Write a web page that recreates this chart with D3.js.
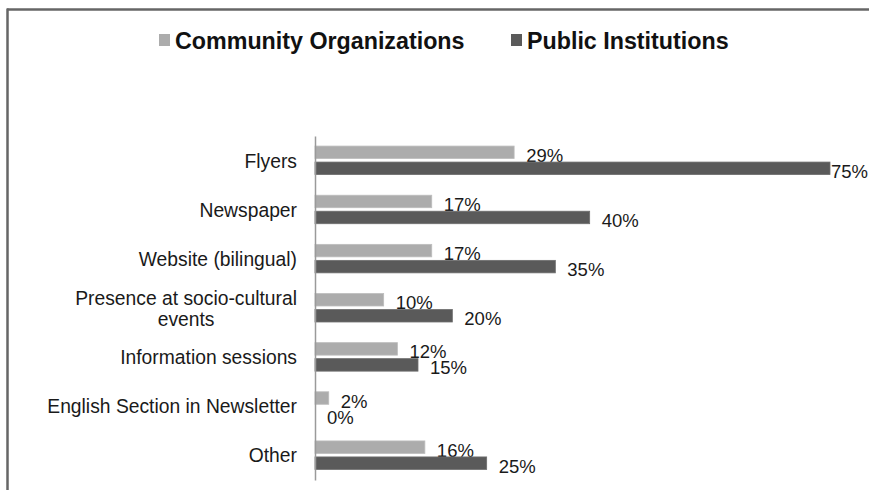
<!DOCTYPE html>
<html>
<head>
<meta charset="utf-8">
<script src="https://cdn.jsdelivr.net/npm/d3@7"></script>
<style>
  html, body { margin: 0; padding: 0; background: #fff; }
  svg { display: block; }
  text { font-family: "Liberation Sans", Arial, sans-serif; }
</style>
</head>
<body>
<script>
const categories = ["Flyers", "Newspaper", "Website (bilingual)", "Presence at socio-cultural events", "Information sessions", "English Section in Newsletter", "Other"];
const categoryLines = [["Flyers"], ["Newspaper"], ["Website (bilingual)"], ["Presence at socio-cultural", "events"], ["Information sessions"], ["English Section in Newsletter"], ["Other"]];
const seriesNames = ["Community Organizations", "Public Institutions"];
const communityOrganizations = [29, 17, 17, 10, 12, 2, 16];
const publicInstitutions = [75, 40, 35, 20, 15, 0, 25];
const seriesColors = ["#acacac", "#5a5a5a"];

const W = 869, H = 490;
const svg = d3.select("body").append("svg").attr("width", W).attr("height", H);

// outer frame (top and left edges visible)
svg.append("line").attr("x1", 7).attr("x2", W).attr("y1", 9.5).attr("y2", 9.5)
  .attr("stroke", "#666").attr("stroke-width", 2.5);
svg.append("line").attr("x1", 7.5).attr("x2", 7.5).attr("y1", 8.5).attr("y2", H)
  .attr("stroke", "#666").attr("stroke-width", 2.5);

const x = d3.scaleLinear().domain([0, 75]).range([315, 830]);
const y = d3.scaleBand().domain(categories).range([136, 480]).padding(0);

const series = [communityOrganizations, publicInstitutions];
const barOffsets = [-14.5, 1.5];
const barH = 12.5;

series.forEach((vals, si) => {
  svg.append("g").selectAll("rect").data(categories).join("rect")
    .attr("x", x(0))
    .attr("y", d => y(d) + y.bandwidth() / 2 + barOffsets[si])
    .attr("width", (d, i) => x(vals[i]) - x(0))
    .attr("height", barH)
    .attr("fill", seriesColors[si])
    .attr("stroke", si === 0 ? "#bdbdbd" : "#6e6e6e")
    .attr("stroke-width", 0.8);
  svg.append("g").selectAll("text").data(categories).join("text")
    .attr("x", (d, i) => Math.min(x(vals[i]) + 12, 831))
    .attr("y", (d, i) => y(d) + y.bandwidth() / 2 + barOffsets[si] + barH / 2 + 9.5)
    .attr("font-size", 18.5)
    .attr("fill", "#1a1a1a")
    .text((d, i) => vals[i] + "%");
});

// axis
const axis = svg.append("g").attr("transform", `translate(${x(0)},0)`)
  .call(d3.axisLeft(y).tickSize(0).tickFormat(""));
axis.select(".domain").attr("stroke", "#9a9a9a").attr("stroke-width", 1.5);

// category labels
categories.forEach((c, i) => {
  const lines = categoryLines[i];
  const cy = y(c) + y.bandwidth() / 2;
  const lh = 21;
  const g = svg.append("text")
    .attr("font-size", 19.3)
    .attr("fill", "#1a1a1a")
    .attr("text-anchor", lines.length > 1 ? "middle" : "end");
  if (lines.length === 1) {
    g.attr("x", 297).attr("y", cy + 7).text(lines[0]);
  } else {
    const tmp = svg.append("text").attr("font-size", 19.3).text(lines[0]);
    const w = tmp.node().getComputedTextLength();
    tmp.remove();
    const cx = 297 - w / 2;
    lines.forEach((ln, k) => {
      g.append("tspan").attr("x", cx)
        .attr("y", cy + 7 + (k - (lines.length - 1) / 2) * lh)
        .text(ln);
    });
  }
});

// legend
const legendItems = [
  { name: seriesNames[0], color: seriesColors[0], sx: 159, tx: 175 },
  { name: seriesNames[1], color: seriesColors[1], sx: 511, tx: 527 }
];
legendItems.forEach(it => {
  svg.append("rect").attr("x", it.sx).attr("y", 34).attr("width", 11).attr("height", 12).attr("fill", it.color);
  svg.append("text")
    .attr("transform", `translate(${it.tx},49) scale(0.97,1)`)
    .attr("font-size", 24)
    .attr("font-weight", "bold")
    .attr("fill", "#111")
    .text(it.name);
});
</script>
</body>
</html>
